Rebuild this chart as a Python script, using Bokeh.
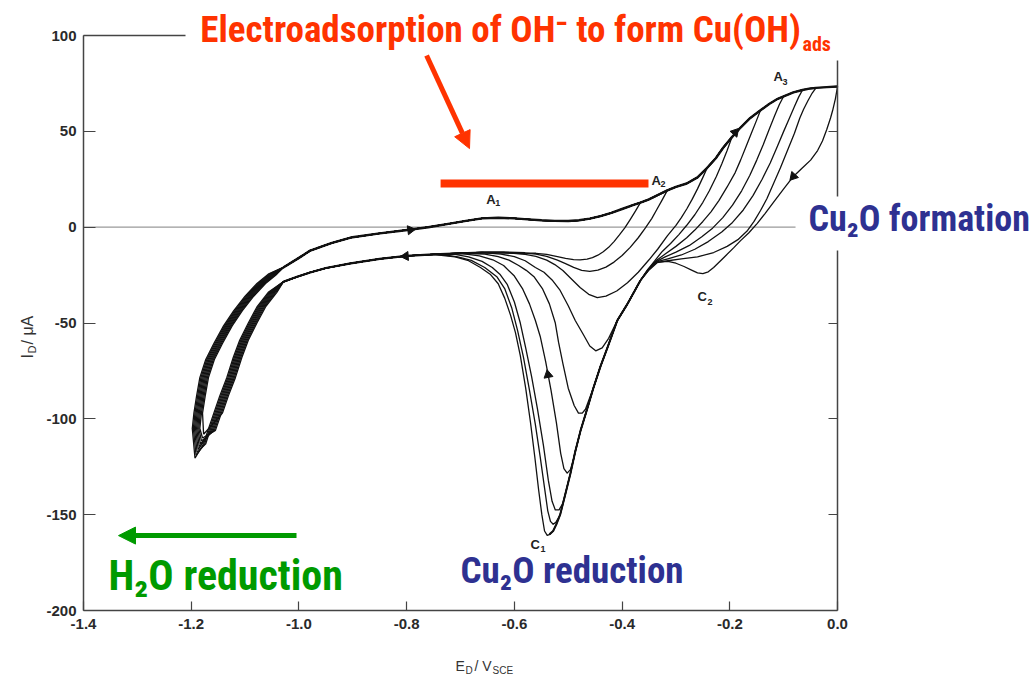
import math
from bokeh.plotting import figure
from bokeh.models import Label, FixedTicker, LinearAxis, Arrow, NormalHead, ColumnDataSource, Range1d, BoxAnnotation
from bokeh.embed import file_html
from bokeh.resources import INLINE

# ---------------- axes ----------------
x_ticks = [-1.4, -1.2, -1.0, -0.8, -0.6, -0.4, -0.2, 0.0]
x_tick_labels = ["-1.4", "-1.2", "-1.0", "-0.8", "-0.6", "-0.4", "-0.2", "0.0"]
y_ticks = [100, 50, 0, -50, -100, -150, -200]
y_tick_labels = ["100", "50", "0", "-50", "-100", "-150", "-200"]
right_ticks = [50, -50, -100, -150]

# ---------------- data (E / V_SCE, I / uA) ----------------
# common anodic envelope (A1, A2, A3)
fwd_E = [-1.029, -1.00, -0.979, -0.94, -0.904, -0.85, -0.806, -0.76, -0.72, -0.69, -0.66, -0.63, -0.60,
         -0.575, -0.55, -0.525, -0.50, -0.48, -0.46, -0.44, -0.42, -0.40, -0.38, -0.366, -0.35, -0.33,
         -0.316, -0.30, -0.28, -0.26, -0.242, -0.226, -0.212, -0.196, -0.18, -0.162, -0.143, -0.127,
         -0.111, -0.10, -0.082, -0.065, -0.05, -0.04, -0.02, 0.0]
fwd_I = [-21, -16, -12.2, -8.3, -5.4, -3.2, -1.7, 0.0, 1.9, 3.3, 4.6, 4.9, 4.6,
         4.1, 3.6, 3.3, 3.2, 3.6, 4.5, 5.8, 7.5, 9.5, 11.5, 12.8, 14.5, 17.3,
         19.2, 21, 22.8, 26, 31, 36, 41.6, 47, 52, 57, 61, 64.3,
         67, 68.3, 70.3, 71.6, 72.4, 72.7, 73.1, 73.4]

# common cathodic return branch
low_E = [-0.58, -0.62, -0.66, -0.70, -0.75, -0.80, -0.85, -0.904, -0.95, -0.979, -1.005, -1.029]
low_I = [-13.5, -13.2, -13.2, -13.6, -14.2, -15.0, -16.5, -18.9, -21.3, -23.6, -26, -28.5]

# hydrogen evolution loops
band_rev_E = [-1.05, -1.071, -1.087, -1.103, -1.115, -1.127, -1.14, -1.151, -1.162, -1.170, -1.178]
band_rev_I = [-34, -41.6, -50, -59, -68, -78.5, -88, -97, -106, -113, -118]
band_fwd_E = [-1.191, -1.188, -1.183, -1.177, -1.166, -1.151, -1.133, -1.114, -1.093, -1.071, -1.05]
band_fwd_I = [-105, -97, -88, -78.5, -69, -60.7, -51.5, -43.5, -36, -29.4, -24.5]
tip_E = -1.186
cycle_tip_I = [-108, -110, -111.5, -113, -114.5, -116, -117.5, -119, -120.5]
cycle_band_shift = [0.009, 0.007, 0.005, 0.003, 0.001, -0.001, -0.003, -0.005, -0.007]

# anodic switching potentials
anodic_limit = [-0.366, -0.316, -0.242, -0.196, -0.143, -0.10, -0.065, -0.04, 0.0]

# shared steep flank of C1
steep_E = [-0.366, -0.39, -0.409, -0.427, -0.44, -0.453, -0.465, -0.477, -0.487, -0.496, -0.506,
           -0.515, -0.522, -0.528, -0.535]
steep_I = [-27.8, -40, -48.7, -62.7, -72.5, -83.6, -95, -106, -117, -128.6, -140,
           -150, -155, -158.5, -160.2]

# reverse sweeps, small switching potentials
rev_E_1 = [-0.366, -0.375, -0.385, -0.395, -0.405, -0.415, -0.425, -0.435, -0.445, -0.455, -0.465, -0.478,
           -0.49, -0.505, -0.52, -0.54, -0.56]
rev_I_1 = [12.8, 8.5, 4.0, -0.3, -4.0, -7.5, -10.5, -12.8, -14.6, -15.9, -16.6, -17.0,
           -16.9, -16.3, -15.3, -14.2, -13.6]
rev_E_2 = [-0.316, -0.325, -0.335, -0.345, -0.357, -0.37, -0.385, -0.40, -0.415, -0.43, -0.445, -0.46,
           -0.475, -0.49, -0.505, -0.52, -0.54, -0.56]
rev_I_2 = [19.2, 14.5, 9.5, 4.5, -0.5, -5.5, -10.5, -14.8, -18.2, -20.8, -22.4, -23.0,
           -22.5, -21.0, -19.0, -17.2, -15.2, -14.0]
rev_E_3 = [-0.242, -0.25, -0.26, -0.27, -0.28, -0.29, -0.30, -0.316, -0.334, -0.35, -0.37, -0.39, -0.41,
           -0.43, -0.446, -0.462, -0.478, -0.495, -0.51, -0.525, -0.54, -0.56, -0.58]
rev_I_3 = [31, 26, 20, 14.5, 9.5, 5.0, 1.0, -4.5, -11.5, -17, -23.5, -29.0, -33.3,
           -36.0, -36.7, -35.0, -31.5, -26.8, -22.6, -19.5, -17.2, -15.2, -14.2]

# reverse sweeps, larger switching potentials: fan part + C1 peak / left flank
fan_E_4 = [-0.196, -0.205, -0.215, -0.225, -0.238, -0.25, -0.265, -0.28, -0.295, -0.31, -0.325, -0.338, -0.352]
fan_I_4 = [47, 40, 33, 26.5, 19, 13, 6.5, 1.0, -4.0, -8.5, -12.5, -17, -22]
left_E_4 = [-0.425, -0.437, -0.449, -0.46, -0.472, -0.487, -0.50, -0.515, -0.53, -0.545, -0.561, -0.58, -0.60, -0.625]
left_I_4 = [-58, -63, -64.5, -62, -56, -48.7, -41, -33, -27.5, -23.5, -21, -17.5, -15.3, -14]

fan_E_5 = [-0.143, -0.15, -0.16, -0.17, -0.18, -0.19, -0.205, -0.22, -0.235, -0.25, -0.265, -0.28, -0.30,
           -0.32, -0.337, -0.352]
fan_I_5 = [61, 56, 49, 42, 35, 28.5, 21, 14, 8, 3, -1.5, -5.5, -10, -14, -17.5, -22]
left_E_5 = [-0.468, -0.474, -0.481, -0.489, -0.50, -0.51, -0.518, -0.524, -0.535, -0.548, -0.563, -0.578,
            -0.592, -0.61, -0.63, -0.655]
left_I_5 = [-95, -97, -97, -93, -84, -71, -60, -50, -40, -32, -26, -22.5, -20, -17.2, -15.3, -14]

fan_E_6 = [-0.10, -0.108, -0.117, -0.127, -0.138, -0.15, -0.163, -0.178, -0.195, -0.213, -0.232, -0.252,
           -0.275, -0.30, -0.32, -0.336, -0.351]
fan_I_6 = [68.3, 64, 58, 51, 43, 35, 27, 19, 11.5, 5, -0.5, -5, -9.5, -13, -15.5, -17.8, -22]
left_E_6 = [-0.49, -0.496, -0.502, -0.508, -0.514, -0.522, -0.532, -0.542, -0.552, -0.561, -0.572, -0.585,
            -0.60, -0.62, -0.64, -0.665, -0.69]
left_I_6 = [-121, -126.5, -128.3, -126, -118, -102, -85, -70, -57, -48.7, -40, -32, -25.5, -20, -17, -15, -14]

fan_E_7 = [-0.065, -0.072, -0.08, -0.09, -0.10, -0.112, -0.125, -0.14, -0.157, -0.175, -0.195, -0.215,
           -0.24, -0.265, -0.29, -0.315, -0.335, -0.35]
fan_I_7 = [71.6, 68, 63, 56.5, 50, 42, 33.5, 25, 16.5, 9, 2.5, -2.5, -7.5, -11.5, -14.5, -16.5, -18, -22]
left_E_7 = [-0.51, -0.517, -0.524, -0.53, -0.537, -0.546, -0.557, -0.568, -0.579, -0.589, -0.60, -0.613,
            -0.627, -0.641, -0.66, -0.685, -0.71]
left_I_7 = [-144, -147.5, -147.5, -143, -132, -114, -95, -78, -63, -50, -39, -30, -24.5, -21, -17.8, -15.5, -14.2]

fan_E_8 = [-0.04, -0.047, -0.055, -0.063, -0.07, -0.08, -0.093, -0.106, -0.119, -0.131, -0.143, -0.155,
           -0.167, -0.185, -0.205, -0.23, -0.26, -0.29, -0.315, -0.335, -0.35]
fan_I_8 = [72.7, 70, 66, 61.5, 57, 49, 40, 31, 22.7, 15, 8.7, 3.0, -1.7, -6.5, -10, -13.2, -15.5, -16.5,
           -17.5, -18.5, -22.3]
left_E_8 = [-0.523, -0.528, -0.533, -0.538, -0.544, -0.552, -0.561, -0.572, -0.583, -0.594, -0.605, -0.618,
            -0.632, -0.655, -0.68, -0.705, -0.73]
left_I_8 = [-154, -155, -153.5, -148, -136, -120, -103, -85, -68, -54, -42, -32, -26, -21, -17.3, -15.5, -14.5]

fan_E_9 = [0.0, -0.004, -0.009, -0.013, -0.02, -0.028, -0.037, -0.05, -0.065, -0.082, -0.10, -0.119,
           -0.135, -0.149, -0.165, -0.18, -0.193, -0.21, -0.23, -0.24, -0.25, -0.26, -0.27, -0.285,
           -0.30, -0.315, -0.335, -0.35]
fan_I_9 = [73.4, 67, 61, 57, 51, 45, 40, 35, 31, 26.5, 20, 13, 7, 2, -3, -7, -10.8, -15.5, -21, -23.3,
           -24.2, -23.8, -22.5, -20.5, -18.8, -17.8, -18.2, -22]
left_E_9 = [-0.534, -0.539, -0.544, -0.549, -0.555, -0.562, -0.57, -0.579, -0.589, -0.598, -0.607, -0.618,
            -0.63, -0.645, -0.663, -0.685, -0.71, -0.74]
left_I_9 = [-160.3, -160.8, -158.5, -150, -137, -120, -102, -84, -67, -55, -46, -37, -29.5, -24.5, -21,
            -17.5, -15.5, -14.5]

# arrowheads on the curves
arrow_E = [-0.793, -0.802, -0.5375, -0.082, -0.19]
arrow_I = [-1.4, -15.1, -77, 26.5, 49.5]
arrow_angle = [-1.44, 1.64, 0.185, 2.41, -0.72]

# ---------------- build cycles ----------------
reverse_E = [rev_E_1, rev_E_2, rev_E_3]
reverse_I = [rev_I_1, rev_I_2, rev_I_3]
for fe, fi, le, li in [(fan_E_4, fan_I_4, left_E_4, left_I_4), (fan_E_5, fan_I_5, left_E_5, left_I_5),
                       (fan_E_6, fan_I_6, left_E_6, left_I_6), (fan_E_7, fan_I_7, left_E_7, left_I_7),
                       (fan_E_8, fan_I_8, left_E_8, left_I_8), (fan_E_9, fan_I_9, left_E_9, left_I_9)]:
    se = [e for e in steep_E if le[0] + 0.004 < e < fe[-1] - 0.005]
    si = [i for e, i in zip(steep_E, steep_I) if le[0] + 0.004 < e < fe[-1] - 0.005]
    reverse_E.append(fe + se + le)
    reverse_I.append(fi + si + li)

xs, ys = [], []
for k in range(len(anodic_limit)):
    sh, tip, lim = cycle_band_shift[k], cycle_tip_I[k], anodic_limit[k]
    ex, iy = [tip_E + sh], [tip]
    for e, i in zip(band_fwd_E, band_fwd_I):
        if i > tip + 3:
            ex.append(e + sh); iy.append(i)
    for e, i in zip(fwd_E, fwd_I):
        if e <= lim + 1e-9:
            ex.append(e); iy.append(i)
    ex += reverse_E[k][1:]; iy += reverse_I[k][1:]
    last = reverse_E[k][-1]
    for e, i in zip(low_E, low_I):
        if e < last - 0.005:
            ex.append(e); iy.append(i)
    for e, i in zip(band_rev_E, band_rev_I):
        if i > tip + 3:
            ex.append(e + sh); iy.append(i)
    ex.append(tip_E + sh); iy.append(tip)
    xs.append(ex); ys.append(iy)

# ---------------- figure (frame = whole canvas, axes fixed at the data box) ----------------
p = figure(width=1036, height=680, min_border=0, x_range=Range1d(-1.5541, 0.36941),
           y_range=Range1d(-236.5, 118.28), x_axis_type=None, y_axis_type=None,
           output_backend="svg", toolbar_location=None)
p.grid.visible = False
p.outline_line_color = None
p.background_fill_color = "white"
p.border_fill_color = "white"

AX = "#444444"


def make_axis(loc, bounds, ticks, labels, tin):
    ax = LinearAxis(fixed_location=loc, bounds=bounds, ticker=FixedTicker(ticks=ticks),
                    major_tick_in=tin, major_tick_out=0, minor_tick_line_color=None,
                    axis_line_color=AX, axis_line_width=1.5, major_tick_line_color=AX,
                    major_tick_line_width=1.2, major_label_text_font="Liberation Sans",
                    major_label_text_font_style="bold", major_label_text_font_size="15px",
                    major_label_text_color="#2a2a2a")
    if labels is None:
        ax.major_label_text_alpha = 0
    else:
        ax.major_label_overrides = {t: l for t, l in zip(ticks, labels)}
    return ax


bottom = make_axis(-200, (-1.4, 0.0), x_ticks, x_tick_labels, 9)
bottom.major_label_standoff = 8
p.add_layout(bottom, "below")
left = make_axis(-1.4, (-200, 100), y_ticks, y_tick_labels, 12)
left.major_label_standoff = 7
p.add_layout(left, "left")
p.add_layout(make_axis(0.0, (-200, 100), right_ticks, None, 9), "right")
top = make_axis(100, (-1.4, 0.0), [], None, 0)
top.major_tick_line_color = None
p.add_layout(top, "above")

# zero reference line, drawn under the curves
p.segment(x0=[-1.4], y0=[0], x1=[0.0], y1=[0], line_color="#9a9a9a", line_width=1.2)

src = ColumnDataSource(dict(xs=xs, ys=ys))
p.multi_line(xs="xs", ys="ys", source=src, line_color="#111111", line_width=1.3, line_join="round")
p.line(fwd_E, fwd_I, line_color="#111111", line_width=2.4, line_join="round")
p.line(low_E, low_I, line_color="#111111", line_width=2.2, line_join="round")
p.line(steep_E, steep_I, line_color="#111111", line_width=2.0, line_join="round")
p.scatter(arrow_E, arrow_I, marker="triangle", size=9, angle=arrow_angle, fill_color="#111111", line_color="#111111")

RED = "#FF3300"
BLUE = "#2E3191"
GREEN = "#009A00"
NARROW = "Roboto Condensed, DejaVu Sans Condensed, Liberation Sans Narrow, Roboto, sans-serif"

# white boxes behind the annotation texts (they hide the frame there, as in the original)
p.add_layout(BoxAnnotation(left=-1.2106, right=0.0204, top=118.28, bottom=86.97,
                           fill_color="white", fill_alpha=1.0, line_color=None))
p.add_layout(BoxAnnotation(left=-0.078, right=0.3694, top=16.0, bottom=-12.2,
                           fill_color="white", fill_alpha=1.0, line_color=None))


def lab(x, y, text, size, color, font="Liberation Sans", style="bold", angle=0.0):
    p.add_layout(Label(x=x, y=y, text=text, text_font=font, text_font_style=style,
                       text_font_size=f"{size}px", text_color=color, angle=angle,
                       text_baseline="alphabetic", text_align="left"))


# red annotation
lab(-1.183, 103.1, "Electroadsorption of OH\u207b to form Cu(OH)", 37, RED, NARROW)
lab(-0.0651, 95.8, "ads", 20, RED, NARROW)
p.add_layout(Arrow(end=NormalHead(size=17, fill_color=RED, line_color=RED), x_start=-0.763, y_start=89.6,
                   x_end=-0.6833, y_end=41.0, line_color=RED, line_width=5))
p.segment(x0=[-0.737], y0=[22.8], x1=[-0.351], y1=[22.8], line_color=RED, line_width=8)

# blue annotations
lab(-0.0539, 4.33, "Cu\u2082O formation", 36, BLUE, NARROW)
lab(-0.700, -179.1, "Cu\u2082O reduction", 37, BLUE, NARROW)

# green annotation
lab(-1.3536, -181.9, "H\u2082O reduction", 42, GREEN, NARROW)
p.add_layout(Arrow(end=NormalHead(size=17, fill_color=GREEN, line_color=GREEN), x_start=-1.0045, y_start=-160.9,
                   x_end=-1.335, y_end=-160.9, line_color=GREEN, line_width=5))

# peak labels
INK = "#222222"
for (x, y, letter, sx, sy, sub) in [(-0.652, 14.4, "A", -0.6353, 12.4, "1"), (-0.3454, 24.4, "A", -0.3287, 22.3, "2"),
                                      (-0.1189, 78.6, "A", -0.1022, 76.0, "3"), (-0.570, -165.5, "C", -0.5514, -168.1, "1"),
                                      (-0.260, -36.2, "C", -0.2414, -38.8, "2")]:
    lab(x, y, letter, 13, INK)
    lab(sx, sy, sub, 9, INK)

# axis titles
lab(-0.7093, -228.7, "E", 14, "#333333", style="normal")
lab(-0.6908, -231.5, "D", 10, "#333333", style="normal")
lab(-0.6741, -228.7, "/ V", 14, "#333333", style="normal")
lab(-0.6406, -231.5, "SCE", 10, "#333333", style="normal")
lab(-1.5044, -68.5, "I", 16, "#333333", style="normal", angle=math.pi / 2)
lab(-1.4962, -65.9, "D", 11, "#333333", style="normal", angle=math.pi / 2)
lab(-1.5044, -61.2, "/ \u03bcA", 16, "#333333", style="normal", angle=math.pi / 2)

open("out.html", "w").write(file_html(p, INLINE))
